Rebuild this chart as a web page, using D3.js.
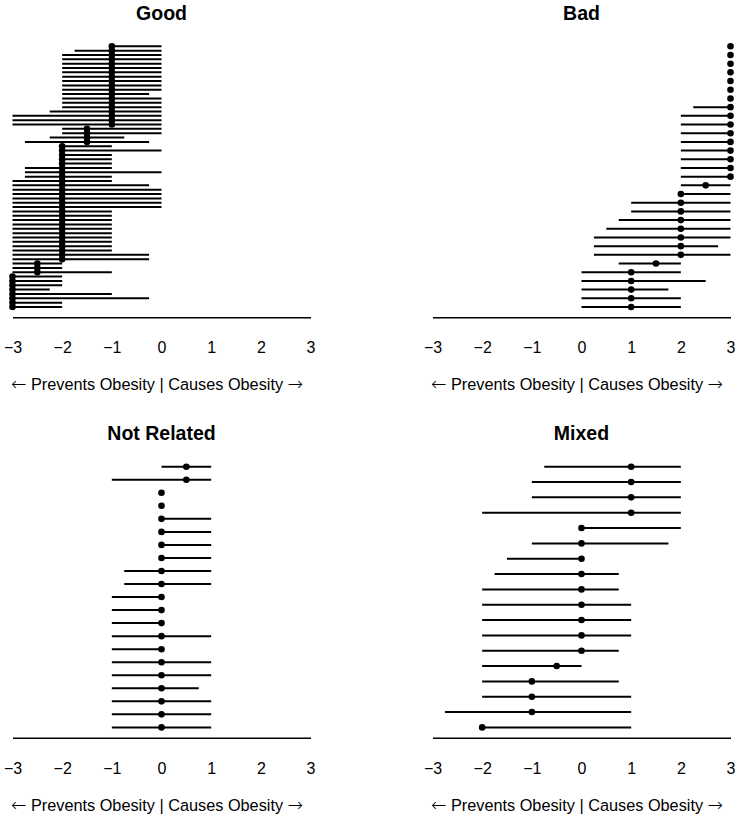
<!DOCTYPE html>
<html>
<head>
<meta charset="utf-8">
<script src="https://cdn.jsdelivr.net/npm/d3@7"></script>
<style>
  html, body { margin: 0; padding: 0; background: #ffffff; }
  svg { display: block; font-family: "Liberation Sans", Arial, Helvetica, sans-serif; }
</style>
</head>
<body>
<svg id="chart" width="739" height="818"></svg>
<script>
// ---- data ----
const xTicks = [-3, -2, -1, 0, 1, 2, 3];
const axisTitleParts = ["\u2190", " Prevents Obesity | Causes Obesity ", "\u2192"];
const panelTitles = ["Good", "Bad", "Not Related", "Mixed"];

const goodEst = [
  -1, -1, -1, -1, -1, -1, -1, -1, -1, -1,
  -1, -1, -1, -1, -1, -1, -1, -1, -1, -1.5,
  -1.5, -1.5, -1.5, -2, -2, -2, -2, -2, -2, -2,
  -2, -2, -2, -2, -2, -2, -2, -2, -2, -2,
  -2, -2, -2, -2, -2, -2, -2, -2, -2, -2,
  -2.5, -2.5, -2.5, -3, -3, -3, -3, -3, -3, -3,
  -3
];
const goodLo = [
  -1, -1.75, -2, -2, -2, -2, -2, -2, -2, -2,
  -2, -2, -2, -2, -2, -2.25, -3, -3, -3, -2,
  -2, -2.25, -2.75, -2, -2, -2, -2, -2, -2.75, -2.75,
  -2.75, -3, -3, -3, -3, -3, -3, -3, -3, -3,
  -3, -3, -3, -3, -3, -3, -3, -3, -3, -3,
  -3, -3, -3, -3, -3, -3, -3, -3, -3, -3,
  -3
];
const goodHi = [
  0, 0, 0, 0, 0, 0, 0, 0, 0, 0,
  0, -0.25, 0, 0, 0, 0, 0, 0, 0, 0,
  0, -0.75, -0.25, -1, 0, -1, -1, -1, -1, 0,
  -1, -1, -0.25, 0, 0, 0, 0, 0, -1, -1,
  -1, -1, -1, -1, -1, -1, -1, -1, -0.25, -0.25,
  -2, -2, -1, -2, -2, -2, -2.25, -1, -0.25, -2,
  -2
];

const badEst = [3, 3, 3, 3, 3, 3, 3, 3, 3, 3, 3, 3, 3, 3, 3, 3, 2.5, 2, 2, 2, 2, 2, 2, 2, 2, 1.5, 1, 1, 1, 1, 1];
const badLo  = [3, 3, 3, 3, 3, 3, 3, 2.25, 2, 2, 2, 2, 2, 2, 2, 2, 2, 2, 1, 1, 0.75, 0.5, 0.25, 0.25, 0.25, 0.75, 0, 0, 0, 0, 0];
const badHi  = [3, 3, 3, 3, 3, 3, 3, 3, 3, 3, 3, 3, 3, 3, 3, 3, 3, 3, 3, 3, 3, 3, 3, 2.75, 3, 2, 2, 2.5, 1.75, 2, 2];

const nrEst = [0.5, 0.5, 0, 0, 0, 0, 0, 0, 0, 0, 0, 0, 0, 0, 0, 0, 0, 0, 0, 0, 0];
const nrLo  = [0, -1, 0, 0, 0, 0, 0, 0, -0.75, -0.75, -1, -1, -1, -1, -1, -1, -1, -1, -1, -1, -1];
const nrHi  = [1, 1, 0, 0, 1, 1, 1, 1, 1, 1, 0, 0, 0, 1, 0, 1, 1, 0.75, 1, 1, 1];

const mxEst = [1, 1, 1, 1, 0, 0, 0, 0, 0, 0, 0, 0, 0, -0.5, -1, -1, -1, -2];
const mxLo  = [-0.75, -1, -1, -2, 0, -1, -1.5, -1.75, -2, -2, -2, -2, -2, -2, -2, -2, -2.75, -2];
const mxHi  = [2, 2, 2, 2, 2, 1.75, 0, 0.75, 0.75, 1, 1, 1, 0.75, 0, 0.75, 1, 1, 1];

// ---- layout ----
const panels = [
  { title: panelTitles[0], est: goodEst, lo: goodLo, hi: goodHi, col: 0, row: 0 },
  { title: panelTitles[1], est: badEst,  lo: badLo,  hi: badHi,  col: 1, row: 0 },
  { title: panelTitles[2], est: nrEst,   lo: nrLo,   hi: nrHi,   col: 0, row: 1 },
  { title: panelTitles[3], est: mxEst,   lo: mxLo,   hi: mxHi,   col: 1, row: 1 }
];

const svg = d3.select("#chart");
const colStep = 420, rowStep = 420.4;

panels.forEach(p => {
  const ox = p.col * colStep, oy = p.row * rowStep;
  const n = p.est.length;
  const x = d3.scaleLinear().domain([xTicks[0], xTicks[xTicks.length - 1]]).range([12.5 + ox, 310.5 + ox]);
  const y = d3.scaleLinear().domain([1, n]).range([46.3 + oy, 307 + oy]);
  const g = svg.append("g");
  const idx = d3.range(n);

  // title
  g.append("text")
    .attr("x", (x.range()[0] + x.range()[1]) / 2)
    .attr("y", 19.5 + oy)
    .attr("text-anchor", "middle")
    .attr("font-weight", "bold")
    .attr("font-size", "19.5px")
    .text(p.title);

  // interval segments
  g.selectAll("line.seg")
    .data(idx.filter(i => p.hi[i] !== p.lo[i]))
    .join("line")
    .attr("class", "seg")
    .attr("x1", i => x(p.lo[i]))
    .attr("x2", i => x(p.hi[i]))
    .attr("y1", i => y(i + 1))
    .attr("y2", i => y(i + 1))
    .attr("stroke", "#000")
    .attr("stroke-width", 2);

  // point estimates
  g.selectAll("circle.pt")
    .data(idx)
    .join("circle")
    .attr("class", "pt")
    .attr("cx", i => x(p.est[i]))
    .attr("cy", i => y(i + 1))
    .attr("r", 3.3)
    .attr("fill", "#000");

  // x axis
  const ax = g.append("g")
    .attr("transform", `translate(0,${317.3 + oy})`)
    .call(d3.axisBottom(x).tickValues(xTicks).tickSize(0).tickPadding(24.6).tickFormat(d3.format("d")));
  ax.select(".domain").attr("stroke", "#000").attr("stroke-width", 1.5);
  ax.selectAll("text").attr("font-size", "16px").attr("font-family", "\"Liberation Sans\", Arial, sans-serif").attr("fill", "#000");

  // axis title
  const t = g.append("text")
    .attr("x", (x.range()[0] + x.range()[1]) / 2 - 4.5)
    .attr("y", 390.3 + oy)
    .attr("text-anchor", "middle")
    .attr("font-size", "16.3px");
  t.append("tspan").attr("font-family", "\"DejaVu Sans\", sans-serif").attr("font-size", "18.5px").attr("font-weight", "200").text(axisTitleParts[0]);
  t.append("tspan").text(axisTitleParts[1]);
  t.append("tspan").attr("font-family", "\"DejaVu Sans\", sans-serif").attr("font-size", "18.5px").attr("font-weight", "200").text(axisTitleParts[2]);
});
</script>
</body>
</html>
